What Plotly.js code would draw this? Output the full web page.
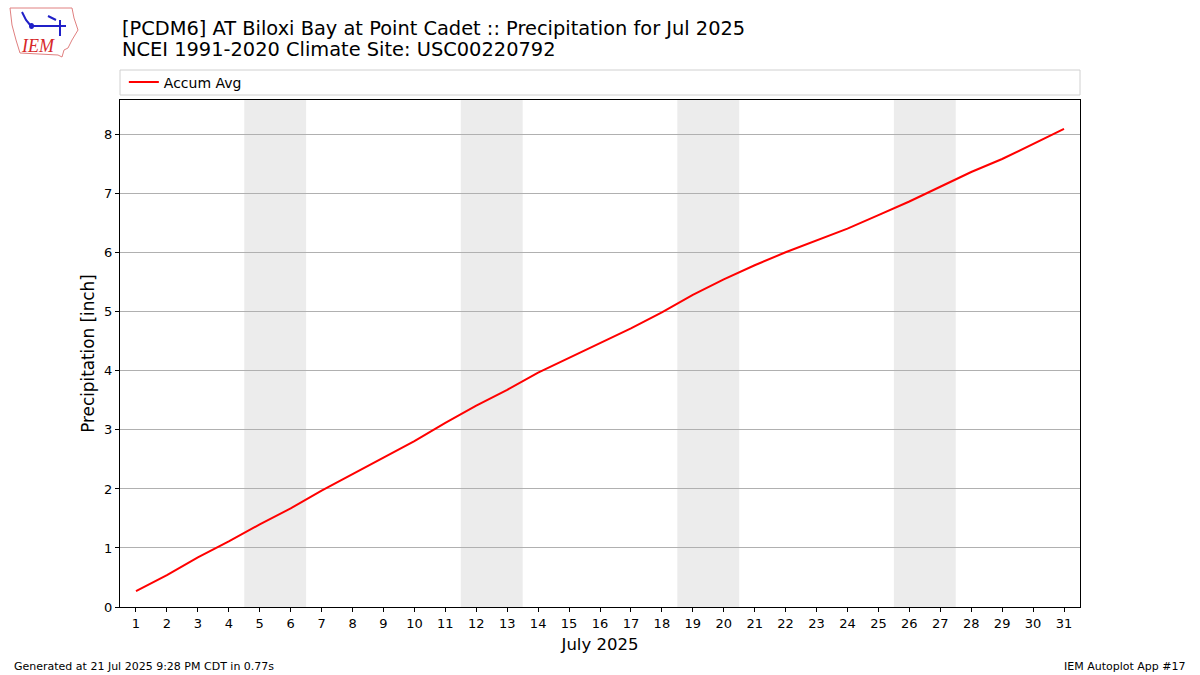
<!DOCTYPE html>
<html>
<head>
<meta charset="utf-8">
<script src="https://cdn.plot.ly/plotly-3.0.1.min.js"></script>
<style>
  html, body { margin: 0; padding: 0; background: #fff; }
  #chart { width: 1200px; height: 675px; }
</style>
</head>
<body>
<div id="chart"></div>
<script>
// Day of month, July 2025
const days = Array.from({ length: 31 }, (_, i) => i + 1);

// Accumulated climatological precipitation (inch)
const accumAvg = [
    0.27, 0.54, 0.84, 1.11, 1.40, 1.67, 1.97, 2.25, 2.54, 2.81,
    3.12, 3.41, 3.68, 3.97, 4.22, 4.47, 4.72, 4.99, 5.29, 5.55,
    5.79, 6.01, 6.21, 6.41, 6.64, 6.87, 7.12, 7.37, 7.59, 7.85,
    8.10
];

// Weekend spans (Sat-Sun) shaded in the background
const weekends = [[4.5, 6.5], [11.5, 13.5], [18.5, 20.5], [25.5, 27.5]];

const font = 'DejaVu Sans, sans-serif';

// plot box is 120..1080 x 100..607 px; helpers to put page pixels in paper coords
const px = v => (v - 120) / 960;
const py = v => 1 + (100 - v) / 507;

const trace = {
    x: days,
    y: accumAvg,
    name: 'Accum Avg',
    type: 'scatter',
    mode: 'lines',
    line: { color: '#ff0000', width: 2 }
};

const shapes = weekends.map(w => ({
    type: 'rect', xref: 'x', yref: 'paper', layer: 'below',
    x0: w[0], x1: w[1], y0: 0, y1: 1,
    fillcolor: '#ececec', line: { width: 0 }
}));

// legend frame spanning the plot width
shapes.push({
    type: 'rect', xref: 'paper', yref: 'paper',
    x0: 0, x1: 1, y0: py(95), y1: py(70),
    line: { color: '#d0d0d0', width: 1 }, fillcolor: 'rgba(0,0,0,0)'
});

// rough IEM logo: state outline plus a little blue station glyph
const outline = [[10, 8], [72, 8], [74, 18], [78, 30], [72, 40], [68, 48], [64, 50],
    [62, 57], [58, 55], [20, 53], [16, 40], [12, 25]];
shapes.push({
    type: 'path', xref: 'paper', yref: 'paper',
    path: 'M ' + outline.map(p => px(p[0]) + ' ' + py(p[1])).join(' L ') + ' Z',
    line: { color: '#e08080', width: 1 }, fillcolor: 'rgba(0,0,0,0)'
});
shapes.push({
    type: 'path', xref: 'paper', yref: 'paper',
    path: `M ${px(31)} ${py(26)} L ${px(66)} ${py(26)} M ${px(60)} ${py(20)} L ${px(60)} ${py(36)} ` +
          `M ${px(48)} ${py(16)} L ${px(56)} ${py(20)} M ${px(22)} ${py(12)} L ${px(26)} ${py(20)} L ${px(31)} ${py(26)}`,
    line: { color: '#2020c8', width: 2 }
});
shapes.push({
    type: 'circle', xref: 'paper', yref: 'paper',
    x0: px(29), x1: px(34), y0: py(29), y1: py(23),
    fillcolor: '#2020c8', line: { width: 0 }
});

const layout = {
    width: 1200,
    height: 675,
    paper_bgcolor: '#ffffff',
    plot_bgcolor: '#ffffff',
    font: { family: font, color: '#000', size: 13 },
    margin: { l: 120, r: 120, t: 100, b: 68 },
    showlegend: true,
    legend: {
        x: 0.004, y: py(82.5), xanchor: 'left', yanchor: 'middle',
        orientation: 'h',
        bgcolor: 'rgba(0,0,0,0)',
        font: { size: 14, family: font },
        itemwidth: 30
    },
    xaxis: {
        range: [0.483, 31.517],
        tickmode: 'array',
        tickvals: days,
        ticktext: days.map(String),
        ticks: 'outside', ticklen: 4, tickcolor: '#000',
        showgrid: false, zeroline: false,
        showline: true, mirror: true, linecolor: '#000', linewidth: 1,
        tickfont: { size: 13 },
        title: { text: 'July 2025', font: { size: 16.5 }, standoff: 8 }
    },
    yaxis: {
        range: [0, 8.59],
        tickmode: 'linear', tick0: 0, dtick: 1,
        ticks: 'outside', ticklen: 4, tickcolor: '#000',
        showgrid: true, gridcolor: '#b0b0b0', gridwidth: 1,
        zeroline: false,
        showline: true, mirror: true, linecolor: '#000', linewidth: 1,
        tickfont: { size: 13 },
        title: { text: 'Precipitation [inch]', font: { size: 16.8 }, standoff: 5 }
    },
    shapes: shapes,
    annotations: [
        {
            text: '[PCDM6] AT Biloxi Bay at Point Cadet :: Precipitation for Jul 2025',
            xref: 'paper', yref: 'paper', x: 0, y: py(29),
            xanchor: 'left', yanchor: 'middle', showarrow: false,
            font: { size: 19.4, family: font }
        },
        {
            text: 'NCEI 1991-2020 Climate Site: USC00220792',
            xref: 'paper', yref: 'paper', x: 0, y: py(50),
            xanchor: 'left', yanchor: 'middle', showarrow: false,
            font: { size: 19.4, family: font }
        },
        {
            text: '<i>IEM</i>',
            xref: 'paper', yref: 'paper', x: px(19), y: py(46),
            xanchor: 'left', yanchor: 'middle', showarrow: false,
            font: { size: 18, family: 'Liberation Serif, serif', color: '#d62728' }
        },
        {
            text: 'Generated at 21 Jul 2025 9:28 PM CDT in 0.77s',
            xref: 'paper', yref: 'paper', x: px(12), y: py(666),
            xanchor: 'left', yanchor: 'middle', showarrow: false,
            font: { size: 11, family: font }
        },
        {
            text: 'IEM Autoplot App #17',
            xref: 'paper', yref: 'paper', x: px(1188), y: py(666),
            xanchor: 'right', yanchor: 'middle', showarrow: false,
            font: { size: 11, family: font }
        }
    ]
};

Plotly.newPlot('chart', [trace], layout, { displayModeBar: false, responsive: false });
</script>
</body>
</html>
